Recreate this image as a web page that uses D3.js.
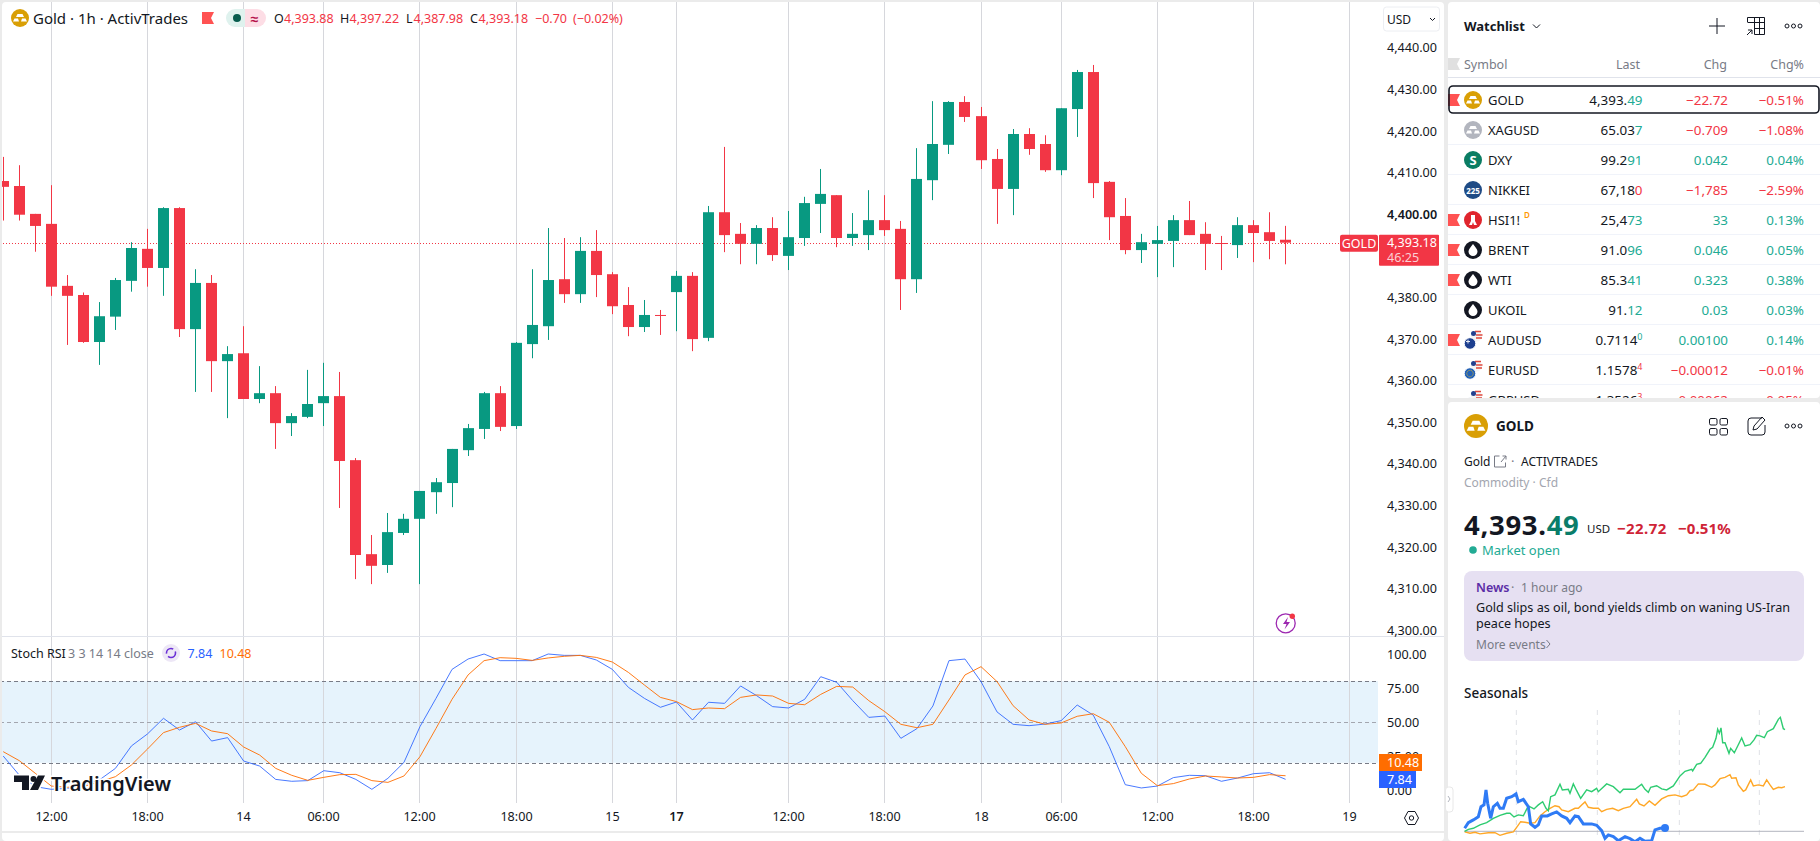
<!DOCTYPE html>
<html>
<head>
<meta charset="utf-8">
<title>Gold 1h</title>
<script src="https://cdn.jsdelivr.net/npm/d3@7"></script>
<style>
  html, body { margin: 0; padding: 0; background: #ebebeb; overflow: hidden; }
  svg { display: block; }
  text { font-family: "Noto Sans", sans-serif; }
  .tick text { fill: #131722; }
</style>
</head>
<body>
<div id="container"></div>
<script>
/**
 * DATA
 * */
const opens = [4408.0,4406.8,4400.1,4397.7,4382.8,4380.6,4369.3,4375.4,4384.0,4391.7,4387.1,4401.5,4372.4,4383.5,4364.7,4366.6,4355.6,4357.0,4349.8,4351.3,4354.6,4356.3,4340.9,4318.3,4315.7,4323.4,4326.8,4333.2,4335.4,4343.3,4348.4,4357.0,4349.1,4368.8,4373.1,4384.4,4380.8,4391.2,4385.6,4378.2,4372.9,4375.8,4381.3,4385.2,4370.3,4400.5,4395.3,4392.9,4396.7,4390.0,4394.3,4402.5,4404.6,4394.3,4395.0,4398.6,4396.5,4384.4,4408.2,4416.7,4427.0,4423.6,4413.3,4406.1,4419.3,4416.9,4410.6,4425.3,4434.2,4407.8,4399.6,4391.4,4392.9,4393.6,4398.6,4395.3,4393.1,4392.6,4397.4,4395.7,4393.88];
const highs = [4413.8,4411.8,4400.1,4407.0,4385.4,4381.2,4378.9,4384.7,4393.3,4396.5,4401.7,4401.7,4386.8,4385.4,4368.3,4373.1,4363.5,4358.7,4352.2,4362.6,4364.3,4362.1,4341.4,4322.9,4328.2,4328.0,4333.5,4336.6,4343.6,4349.6,4357.3,4358.7,4369.3,4386.8,4396.7,4394.3,4394.5,4396.2,4386.1,4382.5,4379.4,4377.0,4386.4,4386.1,4402.0,4416.2,4397.9,4397.4,4399.3,4400.8,4404.2,4410.9,4404.6,4400.3,4405.8,4404.6,4398.4,4415.9,4427.2,4427.2,4428.4,4425.8,4415.7,4420.5,4420.7,4419.0,4425.5,4434.7,4435.9,4408.0,4403.9,4395.3,4397.2,4399.8,4403.2,4398.1,4394.8,4399.3,4398.6,4400.5,4397.22];
const lows = [4398.5,4398.5,4391.0,4380.4,4368.6,4369.1,4363.8,4372.2,4381.4,4382.6,4380.4,4370.5,4357.3,4357.3,4351.0,4355.6,4354.6,4343.6,4346.7,4351.0,4349.1,4329.4,4312.3,4311.1,4313.8,4322.9,4311.1,4328.0,4329.6,4341.9,4346.0,4347.9,4348.4,4365.4,4369.8,4378.7,4378.7,4380.1,4376.0,4370.7,4371.7,4371.0,4371.9,4367.1,4369.5,4390.9,4388.0,4388.0,4388.8,4386.6,4392.4,4395.5,4392.1,4392.4,4391.4,4394.8,4377.0,4381.1,4403.4,4414.5,4422.2,4410.9,4397.7,4399.8,4414.3,4410.2,4409.4,4418.6,4403.9,4393.8,4390.4,4388.3,4384.9,4387.3,4395.0,4386.6,4386.6,4389.5,4388.5,4389.2,4387.98];
const closes = [4406.6,4399.9,4397.2,4382.6,4380.4,4369.3,4375.5,4384.2,4391.9,4387.1,4401.5,4372.4,4383.5,4364.7,4366.4,4355.6,4357.0,4349.8,4351.5,4354.4,4356.3,4340.7,4318.1,4315.5,4323.6,4326.8,4333.5,4335.6,4343.6,4348.6,4357.0,4348.9,4369.1,4373.4,4384.2,4380.8,4391.2,4385.4,4377.9,4372.9,4375.8,4375.7,4385.2,4370.0,4400.5,4395.0,4392.9,4396.7,4390.2,4394.5,4402.7,4404.9,4394.3,4395.3,4398.6,4396.2,4384.4,4408.5,4416.9,4427.0,4423.4,4413.0,4406.1,4419.3,4415.7,4410.6,4425.5,4434.2,4407.5,4399.3,4391.4,4393.3,4393.8,4398.6,4395.0,4392.9,4392.9,4397.4,4395.5,4393.6,4393.18];

const stochK = [25,11,2.5,0.5,1.2,3.7,7.4,15.9,32.4,41.2,52.7,44.1,50.2,36,38.5,21.3,17.6,7.8,6.4,6.9,14.2,12.7,7.8,0.5,8.6,20.3,46.6,67.4,88.7,96.3,100,95.1,95.1,95.1,100,99,99,95.6,88.7,75.5,67.4,60.8,64.7,51.5,64.5,63.7,76.5,69.4,61.3,60.3,66.7,83.3,79.2,65.7,53.4,54.4,38,45.1,61.8,95.1,96.3,79.7,57.4,48.3,47.3,48.5,51,62.5,55.1,31.9,3.9,1.5,2.9,9.1,10.8,10.5,6.4,8.8,12,12.7,7.84];
const stochD = [28.2,21.6,12.3,2.9,2,2.5,6.1,9.8,18.4,30.1,42.2,46.1,49,43.4,41.4,31.6,25.7,15.9,10.8,7.1,9.3,11.3,11.5,6.9,5.6,10.3,24.5,45.3,66.7,84.6,95.1,97.3,96.8,95.3,97.1,98.3,99,97.5,94.1,86.5,77.2,68.1,65,59.1,60.3,59.8,68.1,69.9,69.1,63.7,62.7,70.3,76.2,75.7,65.7,57.6,48.3,45.8,48.3,66.2,84.6,90.7,79.7,62,51.5,48.3,49.3,54.2,56.1,49.8,31.9,12.3,3.2,4.7,8.1,10.3,9.6,8.8,9.3,11.3,10.48];

const priceTicks = [4300,4310,4320,4330,4340,4350,4360,4370,4380,4400,4410,4420,4430,4440];
const stochTicks = [100,75,50,25,0];
const stochLevels = [80,50,20];
const timeIndex = [3,9,15,20,26,32,38,42,49,55,61,66,72,78,84];
const timeLabels = ["12:00","18:00","14","06:00","12:00","18:00","15","17","12:00","18:00","18","06:00","12:00","18:00","19"];
const lastPrice = 4393.18;

const watchSymbols = ["GOLD","XAGUSD","DXY","NIKKEI","HSI1!","BRENT","WTI","UKOIL","AUDUSD","EURUSD","GBPUSD"];
const watchLastHead = ["4,393.","65.03","99.2","67,18","25,4","91.0","85.3","91.","0.7114","1.1578","1.3526"];
const watchLastTail = ["49","7","91","0","73","96","41","12","0","4","3"];
const watchTailUp = [true,true,true,false,true,true,true,true,true,false,false];
const watchChg = ["−22.72","−0.709","0.042","−1,785","33","0.046","0.323","0.03","0.00100","−0.00012","−0.00062"];
const watchPct = ["−0.51%","−1.08%","0.04%","−2.59%","0.13%","0.05%","0.38%","0.03%","0.14%","−0.01%","−0.05%"];
const watchFlags = ["GOLD","HSI1!","BRENT","WTI","AUDUSD"];

// seasonals: [position along the year axis, % change]
const seasonTicks = [157,400,646,886];
const seasonGreen = [[2,0],[13,1],[28,1.5],[48,3.2],[68,4.3],[88,6.5],[108,8],[128,9],[138,9],[150,7.2],[163,8.2],[178,7.8],[193,12.7],[210,11.2],[223,13.2],[236,14.8],[246,11.5],[253,10.3],[260,17.3],[273,18.2],[288,23.5],[295,20.7],[313,21],[318,19],[328,23.7],[338,20.3],[350,16.5],[368,20.7],[383,19.8],[398,21.5],[403,19.8],[428,23.7],[448,22.3],[468,19.3],[478,21],[498,21],[513,21],[533,23.5],[543,21],[553,19.5],[560,22],[578,22.8],[593,21.2],[608,20.7],[628,22.7],[648,27.7],[663,30],[683,31],[686,30.2],[698,33.5],[710,34],[723,37],[738,41],[746,42],[756,46.5],[761,51],[766,49],[771,51.7],[776,44.3],[783,44.3],[795,39],[800,41.5],[811,39.3],[820,42.3],[833,46.7],[843,42.7],[858,43.3],[870,45.7],[878,48],[888,47.7],[901,46.8],[910,49.8],[928,51.3],[943,56],[949,57],[958,51.3],[963,50.8]];
const seasonOrange = [[2,-0.3],[18,-1],[33,-0.5],[48,-1.3],[73,-0.7],[93,-0.7],[108,-2],[128,-1],[148,-0.3],[158,2],[170,4.8],[183,4.5],[198,4],[213,4.3],[228,7.7],[243,9.8],[258,11.5],[273,12.8],[285,12.3],[293,10.7],[313,9.8],[333,11.5],[343,11.5],[353,13.2],[363,14.7],[373,12],[388,11.5],[403,11.5],[413,9.8],[428,11],[446,11.5],[463,10.3],[478,11.5],[498,12.3],[518,16],[526,13.7],[540,12.7],[556,15.2],[573,13],[593,16.2],[613,17.8],[633,18.2],[653,17.3],[668,18.2],[678,20.3],[688,20.7],[703,23.7],[723,23.5],[743,22],[753,23.2],[768,26.3],[783,27],[798,28.3],[803,26.5],[816,26.8],[823,23.2],[838,20],[845,20.7],[860,25.7],[868,22.7],[883,23.2],[898,22.7],[908,25.7],[918,23.2],[928,21],[943,22],[953,21.8],[963,22.3]];
const seasonBlue = [[2,1.5],[13,4.3],[28,5.7],[43,7.3],[51,12.3],[60,13.2],[66,20.7],[71,14],[80,6.5],[88,12.3],[100,14],[108,11.5],[118,11.5],[128,16.5],[143,17.3],[156,18.7],[163,14.8],[178,16],[193,12.3],[200,3.7],[213,2],[223,3.2],[233,7.7],[250,7.7],[263,8.7],[278,9.7],[293,7.7],[308,6.5],[318,4.3],[333,7.7],[343,7.3],[358,3.7],[383,3.7],[398,3],[413,0.3],[423,-3.5],[433,-1.8],[448,-2.7],[463,-4.7],[483,-2.7],[498,-3.7],[513,-5.2],[528,-3.5],[543,-5],[563,-4.7],[573,0.7],[588,1.5],[603,1.7]];

/**
 * CONSTANTS
 * */
const UP = "#089981", DOWN = "#f23645", INK = "#131722", GREY = "#787b86";
const UPTXT = "#22ab94";
const GRID = "#d6d7dc";
const width = 1820, height = 841;

const svg = d3.select("#container").append("svg")
  .attr("width", width).attr("height", height);

const x = d3.scaleLinear().domain([0, 84]).range([3.2, 1349.7]);
const yPrice = d3.scaleLinear().domain([4300, 4440]).range([630.3, 47.9]);
const yStoch = d3.scaleLinear().domain([0, 100]).range([790, 654]);

// small helper for all the text in the panels
function label(g, px, py, str, opt = {}) {
  return g.append("text")
    .attr("x", px).attr("y", py)
    .attr("dominant-baseline", "central")
    .attr("text-anchor", opt.anchor || "start")
    .attr("font-size", opt.size || 13)
    .attr("font-weight", opt.weight || 400)
    .attr("letter-spacing", opt.spacing || 0)
    .attr("fill", opt.fill || INK)
    .text(str);
}

function coinIcon(g, cx, cy, r, fill) {
  g.append("circle").attr("cx", cx).attr("cy", cy).attr("r", r).attr("fill", fill);
  const s = r / 9;
  g.append("path").attr("fill", "#fff")
    .attr("d", `M${cx - 2.5 * s} ${cy - 4 * s}h${5 * s}l${1.5 * s} ${3 * s}h${-8 * s}z` +
      `M${cx - 7 * s} ${cy + 3.5 * s}l${1.5 * s} ${-3 * s}h${3.5 * s}l${1 * s} ${3 * s}z` +
      `M${cx + 7 * s} ${cy + 3.5 * s}l${-1.5 * s} ${-3 * s}h${-3.5 * s}l${-1 * s} ${3 * s}z`);
}

function flag(g, fx, cy, w, fill) {
  g.append("path").attr("fill", fill)
    .attr("d", `M${fx} ${cy - 6}h${w}l-3 6l3 6h${-w}z`);
}

/**
 * BACKGROUND PANELS
 * */
svg.append("rect").attr("width", width).attr("height", height).attr("fill", "#ebebeb");
svg.append("rect").attr("x", 2).attr("y", 2).attr("width", 1442).attr("height", 839).attr("rx", 4).attr("fill", "#fff");
svg.append("rect").attr("x", 1448).attr("y", 2).attr("width", 372).attr("height", 396).attr("rx", 4).attr("fill", "#fff");
svg.append("rect").attr("x", 1448).attr("y", 402).attr("width", 372).attr("height", 439).attr("rx", 4).attr("fill", "#fff");

svg.append("clipPath").attr("id", "clipChart").append("rect")
  .attr("x", 2).attr("y", 2).attr("width", 1378).attr("height", 834);
svg.append("clipPath").attr("id", "clipWatch").append("rect")
  .attr("x", 1448).attr("y", 2).attr("width", 372).attr("height", 396);

/**
 * GRID, BAND, DIVIDERS
 * */
const chart = svg.append("g").attr("clip-path", "url(#clipChart)");
chart.append("rect")
  .attr("x", 0).attr("width", 1378)
  .attr("y", yStoch(80)).attr("height", yStoch(20) - yStoch(80))
  .attr("fill", "#e6f3fc");
chart.selectAll(".grid").data(timeIndex).join("line")
  .attr("class", "grid")
  .attr("x1", d => Math.floor(x(d)) + 0.5).attr("x2", d => Math.floor(x(d)) + 0.5)
  .attr("y1", 2).attr("y2", 803)
  .attr("stroke", GRID);

chart.selectAll(".level").data(stochLevels).join("line")
  .attr("class", "level")
  .attr("x1", 0).attr("x2", 1378)
  .attr("y1", d => Math.round(yStoch(d)) + 0.5).attr("y2", d => Math.round(yStoch(d)) + 0.5)
  .attr("stroke", d => d === 50 ? "#a3a6af" : "#787b86")
  .attr("stroke-dasharray", "4 3");

svg.append("line").attr("x1", 2).attr("x2", 1444).attr("y1", 636.5).attr("y2", 636.5).attr("stroke", "#e0e3eb");
svg.append("rect").attr("x", 2).attr("y", 831).attr("width", 1442).attr("height", 2).attr("fill", "#ebebeb");

/**
 * CANDLES
 * */
const candles = d3.range(opens.length).map(i => ({
  i, o: opens[i], h: highs[i], l: lows[i], c: closes[i], up: closes[i] >= opens[i]
}));

// last price dotted line goes under the candles
chart.append("line")
  .attr("x1", 0).attr("x2", 1340)
  .attr("y1", Math.round(yPrice(lastPrice)) + 0.5).attr("y2", Math.round(yPrice(lastPrice)) + 0.5)
  .attr("stroke", DOWN).attr("stroke-dasharray", "1 2");

chart.selectAll(".wick").data(candles).join("line")
  .attr("class", "wick")
  .attr("x1", d => Math.floor(x(d.i)) + 0.5).attr("x2", d => Math.floor(x(d.i)) + 0.5)
  .attr("y1", d => yPrice(d.h)).attr("y2", d => yPrice(d.l))
  .attr("stroke", d => d.up ? UP : DOWN);

chart.selectAll(".body").data(candles).join("rect")
  .attr("class", "body")
  .attr("x", d => Math.floor(x(d.i)) - 5)
  .attr("width", 11)
  .attr("y", d => yPrice(Math.max(d.o, d.c)))
  .attr("height", d => Math.max(1, Math.abs(yPrice(d.o) - yPrice(d.c))))
  .attr("fill", d => d.up ? UP : DOWN);

/**
 * STOCH RSI LINES
 * */
const stochLine = d3.line().x((d, i) => x(i)).y(d => yStoch(d));
chart.append("path").datum(stochK).attr("d", stochLine)
  .attr("fill", "none").attr("stroke", "#2962ff").attr("stroke-opacity", 0.85).attr("stroke-width", 1);
chart.append("path").datum(stochD).attr("d", stochLine)
  .attr("fill", "none").attr("stroke", "#ff6d00").attr("stroke-opacity", 0.9).attr("stroke-width", 1);

/**
 * AXES
 * */
const priceAxis = svg.append("g").attr("transform", "translate(1381,0)")
  .call(d3.axisRight(yPrice).tickValues(priceTicks).tickSize(0).tickPadding(6).tickFormat(d3.format(",.2f")));
priceAxis.select(".domain").remove();
priceAxis.selectAll("text").attr("font-size", 12.6).style("font-family", '"Noto Sans"')
  .attr("font-weight", d => d === 4400 ? 600 : 400);

const stochAxis = svg.append("g").attr("transform", "translate(1381,0)")
  .call(d3.axisRight(yStoch).tickValues(stochTicks).tickSize(0).tickPadding(6).tickFormat(d3.format(".2f")));
stochAxis.select(".domain").remove();
stochAxis.selectAll("text").attr("font-size", 12.6).style("font-family", '"Noto Sans"');

const timeScale = d3.scaleOrdinal().domain(timeIndex).range(timeIndex.map(d => Math.floor(x(d))));
const timeAxis = svg.append("g").attr("transform", "translate(0,807)")
  .call(d3.axisBottom(timeScale).tickValues(timeIndex).tickSize(0).tickPadding(5)
    .tickFormat((d, i) => timeLabels[i]));
timeAxis.select(".domain").remove();
timeAxis.selectAll("text").attr("font-size", 12.6).style("font-family", '"Noto Sans"')
  .attr("font-weight", d => d === 42 ? 600 : 400);

/**
 * HEADER OF THE CHART
 * */
const head = svg.append("g");
coinIcon(head, 20, 18, 9, "#d99f05");
label(head, 33, 18, "Gold · 1h · ActivTrades", { size: 15 });
flag(head, 202, 18, 12, "#ff5252");
head.append("path").attr("fill", "#dff2ee").attr("d", "M245 9h-10a9 9 0 0 0 0 18h10z");
head.append("path").attr("fill", "#fddde5").attr("d", "M245 9h12a9 9 0 0 1 0 18h-12z");
head.append("circle").attr("cx", 237).attr("cy", 18).attr("r", 4).attr("fill", "#075c4d");
label(head, 254.5, 18, "≈", { size: 14, anchor: "middle", fill: "#b5124a", weight: 700 });
[["O", 274, "4,393.88", 284], ["H", 340, "4,397.22", 349.5], ["L", 406, "4,387.98", 413.5], ["C", 470, "4,393.18", 478.5]].forEach(d => {
  label(head, d[1], 18, d[0], { size: 12.5 });
  label(head, d[3], 18, d[2], { size: 12.5, fill: DOWN });
});
label(head, 535, 18, "−0.70", { size: 12.5, fill: DOWN });
label(head, 573, 18, "(−0.02%)", { size: 12.5, fill: DOWN });

// USD button
svg.append("rect").attr("x", 1383.5).attr("y", 7).attr("width", 56).attr("height", 24).attr("rx", 3)
  .attr("fill", "#fff").attr("stroke", "#eceef2");
label(svg, 1387, 19, "USD", { size: 12 });
svg.append("path").attr("d", "M1430 18l2.5 2.5l2.5-2.5").attr("fill", "none").attr("stroke", INK);

// last price labels
const yLast = yPrice(lastPrice);
svg.append("rect").attr("x", 1340).attr("y", yLast - 8).attr("width", 38).attr("height", 17).attr("rx", 2).attr("fill", DOWN);
label(svg, 1359, yLast + 0.5, "GOLD", { size: 12.5, anchor: "middle", fill: "#fff" });
svg.append("rect").attr("x", 1379).attr("y", yLast - 8).attr("width", 60).attr("height", 31).attr("rx", 1).attr("fill", DOWN);
label(svg, 1387, yLast - 0.5, "4,393.18", { size: 12.6, fill: "#fff" });
label(svg, 1387, yLast + 14.5, "46:25", { size: 12.6, fill: "#fbd0d4" });

// lightning badge
svg.append("circle").attr("cx", 1285.7).attr("cy", 623.3).attr("r", 9.5).attr("fill", "#fff").attr("stroke", "#9c27b0").attr("stroke-width", 1.3);
svg.append("path").attr("d", "M1288 617l-5 7h3.5l-2 5.5l5.5-7.5h-3.5z").attr("fill", "#9c27b0");
svg.append("circle").attr("cx", 1292.3).attr("cy", 616.3).attr("r", 2.7).attr("fill", "#f23645");

/**
 * STOCH LEGEND AND VALUE LABELS
 * */
const legend = svg.append("g");
label(legend, 11, 653, "Stoch RSI", { size: 12.5 });
label(legend, 68, 653, "3 3 14 14 close", { size: 12.5, fill: GREY });
legend.append("circle").attr("cx", 171).attr("cy", 653).attr("r", 9).attr("fill", "#ede7f6");
legend.append("circle").attr("cx", 171).attr("cy", 653).attr("r", 4.5).attr("fill", "none").attr("stroke", "#6a2fd6").attr("stroke-width", 1.6).attr("stroke-dasharray", "10 3");
label(legend, 187.5, 653, "7.84", { size: 12.5, fill: "#2962ff" });
label(legend, 219.5, 653, "10.48", { size: 12.5, fill: "#ff6d00" });

svg.append("rect").attr("x", 1379).attr("y", 754).attr("width", 43).attr("height", 17).attr("fill", "#ff6d00");
label(svg, 1387, 762.5, "10.48", { size: 12.6, fill: "#fff" });
svg.append("rect").attr("x", 1379).attr("y", 771).attr("width", 37).attr("height", 17).attr("fill", "#2962ff");
label(svg, 1387, 779.5, "7.84", { size: 12.6, fill: "#fff" });

// TradingView watermark
const logo = svg.append("g");
logo.append("path").attr("fill", INK).attr("stroke", "#fff").attr("stroke-width", 3).attr("paint-order", "stroke")
  .attr("d", "M14 775.5h15v14.5h-7v-8h-8zM38 775.5h7l-7 14.5h-8z");
logo.append("circle").attr("cx", 33.5).attr("cy", 779).attr("r", 3).attr("fill", INK);
label(logo, 51, 783, "TradingView", { size: 20, weight: 600 })
  .attr("stroke", "#fff").attr("stroke-width", 3).attr("paint-order", "stroke");

// settings hexagon
svg.append("path").attr("d", "M1404.5 818l3.5-6.5h7l3.5 6.5l-3.5 6.5h-7z").attr("fill", "none").attr("stroke", INK);
svg.append("circle").attr("cx", 1411.5).attr("cy", 818).attr("r", 2.2).attr("fill", "none").attr("stroke", INK);

// collapse handle
svg.append("rect").attr("x", 1445.5).attr("y", 787).attr("width", 7.5).attr("height", 25).attr("rx", 3).attr("fill", "#fff").attr("stroke", "#e8e8e8");
svg.append("path").attr("d", "M1448 796l2 3l-2 3").attr("fill", "none").attr("stroke", "#b2b5be");

/**
 * WATCHLIST
 * */
const watch = svg.append("g").attr("clip-path", "url(#clipWatch)");
label(watch, 1464, 26, "Watchlist", { size: 13, weight: 700 });
watch.append("path").attr("d", "M1533 24.5l3.5 3.5l3.5-3.5").attr("fill", "none").attr("stroke", INK);
watch.append("path").attr("d", "M1709 26h16M1717 18v16").attr("stroke", INK).attr("fill", "none");
watch.append("path").attr("d", "M1747.5 22v-4.5h17v17h-10M1747.5 22.5h17M1754.5 17.5v17M1759.5 17.5v17M1754.5 28.5h10M1747 35l5-5M1748 30h4v4").attr("stroke", INK).attr("fill", "none");
[1787, 1793.5, 1800].forEach(cx => {
  watch.append("circle").attr("cx", cx).attr("cy", 26).attr("r", 2).attr("fill", "none").attr("stroke", INK);
});

flag(watch, 1448, 64, 12, "#e0e0e0");
label(watch, 1464, 64, "Symbol", { size: 12.5, fill: GREY });
label(watch, 1640, 64, "Last", { size: 12.5, fill: GREY, anchor: "end" });
label(watch, 1727, 64, "Chg", { size: 12.5, fill: GREY, anchor: "end" });
label(watch, 1804, 64, "Chg%", { size: 12.5, fill: GREY, anchor: "end" });
watch.append("line").attr("x1", 1448).attr("x2", 1820).attr("y1", 77.5).attr("y2", 77.5).attr("stroke", "#e0e3eb");

function rowIcon(g, sym, cy) {
  const cx = 1473;
  if (sym === "GOLD") coinIcon(g, cx, cy, 9, "#d99f05");
  else if (sym === "XAGUSD") coinIcon(g, cx, cy, 9, "#b2b5be");
  else if (sym === "DXY") {
    g.append("circle").attr("cx", cx).attr("cy", cy).attr("r", 9).attr("fill", "#0b7d63");
    label(g, cx, cy, "S", { size: 13, weight: 700, fill: "#fff", anchor: "middle" });
  } else if (sym === "NIKKEI") {
    g.append("circle").attr("cx", cx).attr("cy", cy).attr("r", 9).attr("fill", "#1f4b85");
    label(g, cx, cy, "225", { size: 8, weight: 700, fill: "#fff", anchor: "middle" });
  } else if (sym === "HSI1!") {
    g.append("circle").attr("cx", cx).attr("cy", cy).attr("r", 9).attr("fill", "#e0252d");
    g.append("path").attr("d", `M${cx - 2} ${cy - 5}h4v6l2 4h-3l-1-3l-1 3h-3l2-4z`).attr("fill", "#fff");
  } else if (["BRENT", "WTI", "UKOIL"].includes(sym)) {
    g.append("circle").attr("cx", cx).attr("cy", cy).attr("r", 9).attr("fill", INK);
    g.append("path").attr("d", `M${cx} ${cy - 6}c2 3 4.5 5 4.5 7.5a4.5 4.5 0 0 1-9 0c0-2.5 2.5-4.5 4.5-7.5z`).attr("fill", "#fff");
  } else {
    // forex pair: US flag behind, other currency in front
    g.append("circle").attr("cx", cx + 3.5).attr("cy", cy - 4).attr("r", 5.5).attr("fill", "#f5f5f5");
    g.append("path").attr("d", `M${cx + 2} ${cy - 8.5}h6M${cx + 3} ${cy - 5}h6.5M${cx + 3} ${cy - 2}h6`).attr("stroke", "#e0483e").attr("stroke-width", 1.3);
    g.append("circle").attr("cx", cx + 0.5).attr("cy", cy - 6.5).attr("r", 2.5).attr("fill", "#23408f");
    g.append("circle").attr("cx", cx - 3).attr("cy", cy + 3.5).attr("r", 5.8)
      .attr("fill", sym === "EURUSD" ? "#2261b8" : "#1d3f8f").attr("stroke", "#fff");
    if (sym === "EURUSD") {
      g.append("circle").attr("cx", cx - 3).attr("cy", cy + 3.5).attr("r", 3.2)
        .attr("fill", "none").attr("stroke", "#f5c518").attr("stroke-width", 1).attr("stroke-dasharray", "1 1.2");
    } else {
      g.append("path").attr("d", `M${cx - 7} ${cy + 1.5}h4M${cx - 5} ${cy - 0.5}v4`).attr("stroke", "#e8edf5").attr("stroke-width", 1);
    }
  }
}

const rows = watch.selectAll(".row").data(watchSymbols).join("g").attr("class", "row");
rows.each(function (sym, i) {
  const g = d3.select(this);
  const cy = 100 + i * 30;
  if (i > 0) g.append("line").attr("x1", 1448).attr("x2", 1820).attr("y1", cy + 14.5).attr("y2", cy + 14.5).attr("stroke", "#f0f3fa");
  if (watchFlags.includes(sym)) flag(g, 1448, cy, 12, "#ff5252");
  rowIcon(g, sym, cy);
  label(g, 1488, cy, sym, { size: 13 });
  if (sym === "HSI1!") label(g, 1524, cy - 6, "D", { size: 8, fill: "#ff9800", weight: 600 });

  const col = watchChg[i].startsWith("−") ? DOWN : UPTXT;
  const tailSmall = ["AUDUSD", "EURUSD", "GBPUSD"].includes(sym);
  const t = label(g, 1642.5, cy, "", { size: 13.4, anchor: "end" });
  t.append("tspan").text(watchLastHead[i]);
  const tail = t.append("tspan").attr("fill", watchTailUp[i] ? UPTXT : DOWN).text(watchLastTail[i]);
  if (tailSmall) tail.attr("font-size", 9).attr("dy", -4);

  label(g, 1728, cy, watchChg[i], { size: 13.4, fill: col, anchor: "end" });
  label(g, 1804, cy, watchPct[i], { size: 13.4, fill: col, anchor: "end" });
});
watch.append("rect").attr("x", 1449).attr("y", 86).attr("width", 370).attr("height", 27).attr("rx", 4)
  .attr("fill", "none").attr("stroke", INK).attr("stroke-width", 1.6);

/**
 * SYMBOL DETAILS
 * */
const info = svg.append("g");
coinIcon(info, 1476, 426, 12, "#d99f05");
label(info, 1496, 426, "GOLD", { size: 13.5, weight: 700 });
[1709.5, 1720].forEach(sx => [418.5, 428.5].forEach(sy => {
  info.append("rect").attr("x", sx).attr("y", sy).attr("width", 7.5).attr("height", 6.5).attr("rx", 1.5).attr("fill", "none").attr("stroke", INK);
}));
info.append("path").attr("d", "M1762 418h-11a3 3 0 0 0-3 3v11a3 3 0 0 0 3 3h11a3 3 0 0 0 3-3v-7M1753 430l1-4l8-9l3 3l-8 9z").attr("fill", "none").attr("stroke", INK);
[1787, 1793.5, 1800].forEach(cx => {
  info.append("circle").attr("cx", cx).attr("cy", 426).attr("r", 2).attr("fill", "none").attr("stroke", INK);
});
label(info, 1464, 461, "Gold", { size: 12 });
info.append("path").attr("d", "M1499.5 456h-5v11h11v-4.5M1501 462l5-6M1502.5 456h3.5v3.5").attr("fill", "none").attr("stroke", GREY);
label(info, 1511, 461, "·", { size: 13, fill: GREY });
label(info, 1521, 461, "ACTIVTRADES", { size: 12 });
label(info, 1464, 482, "Commodity  ·  Cfd", { size: 12, fill: "#a3a6af" });

const big = label(info, 1464, 524, "", { size: 27.5, weight: 700, spacing: 0.7 });
big.append("tspan").text("4,393.");
big.append("tspan").attr("fill", "#0a7d6a").text("49");
label(info, 1587, 528, "USD", { size: 11.5 });
label(info, 1617, 527.5, "−22.72", { size: 15, weight: 700, fill: "#cf2437", spacing: 0.4 });
label(info, 1678, 527.5, "−0.51%", { size: 15, weight: 700, fill: "#cf2437", spacing: 0.1 });
info.append("circle").attr("cx", 1473).attr("cy", 550).attr("r", 3.8).attr("fill", UPTXT);
label(info, 1482, 550, "Market open", { size: 13, fill: UPTXT });

info.append("rect").attr("x", 1464).attr("y", 571).attr("width", 340).attr("height", 90).attr("rx", 8).attr("fill", "#e6e0f2");
label(info, 1476, 587, "News", { size: 12.5, weight: 600, fill: "#5b2da6" });
label(info, 1511, 587, "·", { size: 12.5, fill: GREY });
label(info, 1521, 587, "1 hour ago", { size: 12, fill: GREY });
label(info, 1476, 607, "Gold slips as oil, bond yields climb on waning US-Iran", { size: 12.6 });
label(info, 1476, 623, "peace hopes", { size: 12.6 });
label(info, 1476, 644, "More events", { size: 12, fill: GREY });
info.append("path").attr("d", "M1546.5 640l3.5 4l-3.5 4").attr("fill", "none").attr("stroke", GREY);
label(info, 1464, 693, "Seasonals", { size: 13.5, weight: 500 });

/**
 * SEASONALS
 * */
const xSeason = d3.scaleLinear().domain([0, 1020]).range([1464, 1804]);
const ySeason = d3.scaleLinear().domain([0, 60]).range([831.3, 711.3]);
const seasons = svg.append("g");
seasons.selectAll(".stick").data(seasonTicks).join("line")
  .attr("class", "stick")
  .attr("x1", d => xSeason(d)).attr("x2", d => xSeason(d))
  .attr("y1", 710).attr("y2", 836)
  .attr("stroke", "#dfe1e6").attr("stroke-width", 1).attr("stroke-dasharray", "5 5");
seasons.append("line")
  .attr("x1", 1464).attr("x2", 1804).attr("y1", ySeason(0)).attr("y2", ySeason(0))
  .attr("stroke", "#b2b5be");
const seasonLine = d3.line().x(d => xSeason(d[0])).y(d => ySeason(d[1]));
seasons.append("path").datum(seasonOrange).attr("d", seasonLine)
  .attr("fill", "none").attr("stroke", "#ffa726").attr("stroke-width", 1.4);
seasons.append("path").datum(seasonGreen).attr("d", seasonLine)
  .attr("fill", "none").attr("stroke", "#2ecc71").attr("stroke-width", 1.4);
seasons.append("path").datum(seasonBlue).attr("d", seasonLine)
  .attr("fill", "none").attr("stroke", "#2f7bf5").attr("stroke-width", 3);
seasons.append("circle")
  .attr("cx", xSeason(seasonBlue[seasonBlue.length - 1][0]))
  .attr("cy", ySeason(seasonBlue[seasonBlue.length - 1][1]))
  .attr("r", 4).attr("fill", "#2f7bf5");
</script>
</body>
</html>
